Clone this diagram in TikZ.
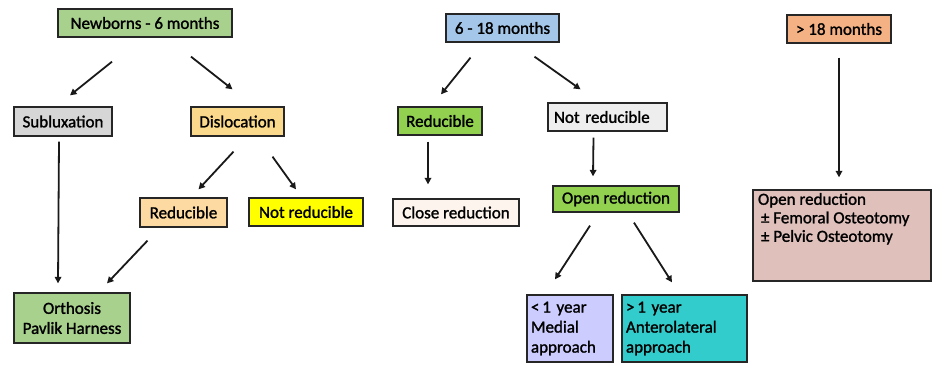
\documentclass[tikz,border=0pt]{standalone}
\usepackage{fontspec}
\setmainfont{Carlito}[BoldFont=Carlito, BoldFeatures={FakeBold=1.4}]
\usetikzlibrary{arrows.meta}
\definecolor{cgreen}{HTML}{A9D18E}
\definecolor{cgray}{HTML}{D6D6D6}
\definecolor{corange}{HTML}{FBD98C}
\definecolor{cpeach}{HTML}{FCDAA2}
\definecolor{cyellow}{HTML}{FFFF00}
\definecolor{cblue}{HTML}{A4C6E8}
\definecolor{clime}{HTML}{92D050}
\definecolor{clight}{HTML}{EEEEEE}
\definecolor{ccream}{HTML}{FDF4EE}
\definecolor{clav}{HTML}{CCCCFF}
\definecolor{cteal}{HTML}{33CCCC}
\definecolor{csalmon}{HTML}{F4B183}
\definecolor{cpink}{HTML}{DFC0BB}
\tikzset{
  box/.style={draw=black!85, line width=1.3pt, inner sep=0pt, font=\fontsize{17}{20}\selectfont\bfseries, align=center},
  arr/.style={-{Triangle[length=6.5pt,width=6.5pt]}, line width=1.8pt, black!90}
}
\begin{document}
\begin{tikzpicture}[x=1pt,y=-1pt]
\useasboundingbox (0,0) rectangle (932,367);
% column 1
\node[box, fill=cgreen, minimum width=174pt, minimum height=28pt] (nb) at (145,23) {Newborns - 6 months};
\node[box, fill=cgray, minimum width=98pt, minimum height=29pt] (sub) at (63,121.5) {Subluxation};
\node[box, fill=corange, minimum width=93pt, minimum height=29pt] (dis) at (237.5,121.5) {Dislocation};
\node[box, fill=cpeach, minimum width=87pt, minimum height=29pt] (red1) at (183.5,212.5) {Reducible};
\node[box, fill=cyellow, minimum width=114pt, minimum height=28pt] (nr1) at (306,212) {Not reducible};
\node[box, fill=cgreen, minimum width=116pt, minimum height=50pt] (ortho) at (72,318) {Orthosis\\Pavlik Harness};
% column 2
\node[box, fill=cblue, minimum width=113pt, minimum height=28pt] (mid) at (502.5,28) {6 - 18 months};
\node[box, fill=clime, minimum width=84pt, minimum height=28pt] (red2) at (440,121) {Reducible};
\node[box, fill=clight, minimum width=119pt, minimum height=28pt, text width=107pt, align=left] (nr2) at (607.5,117) {Not reducible};
\node[box, fill=ccream, minimum width=126pt, minimum height=27pt] (close) at (456,212.5) {Close reduction};
\node[box, fill=clime, minimum width=126pt, minimum height=26pt] (open) at (616,199) {Open reduction};
\node[box, fill=clav, minimum width=86pt, minimum height=67pt, text width=78pt, align=left] (lt) at (570,328.5) {<\,1 year\\Medial\\approach};
\node[box, fill=cteal, minimum width=125pt, minimum height=67pt, text width=117pt, align=left] (gt) at (684.5,328.5) {>\,1 year\\Anterolateral\\approach};
% column 3
\node[box, fill=csalmon, minimum width=104pt, minimum height=28pt] (old) at (839,29) {> 18 months};
\node[box, fill=cpink, minimum width=178pt, minimum height=91pt] (big) at (842,235.5)
  {\parbox[c][85pt][t]{168pt}{\fontsize{17}{18.5}\selectfont\bfseries Open reduction\\\hspace*{3pt}± Femoral Osteotomy\\\hspace*{3pt}± Pelvic Osteotomy}};
% arrows
\draw[arr] ([shift={(-33,24)}]nb.south) -- ([shift={(7,-11)}]sub.north);
\draw[arr] ([shift={(46,19)}]nb.south) -- ([shift={(-5,-17)}]dis.north);
\draw[arr] ([shift={(-4,15)}]dis.south) -- ([shift={(15,-8)}]red1.north);
\draw[arr] ([shift={(35,20)}]dis.south) -- ([shift={(-10,-8)}]nr1.north);
\draw[arr] ([shift={(-4,5)}]sub.south) -- ([shift={(-14,-9)}]ortho.north);
\draw[arr] ([shift={(-36,13)}]red1.south) -- ([shift={(35,-9)}]ortho.north);
\draw[arr] ([shift={(-32,15)}]mid.south) -- ([shift={(1,-12)}]red2.north);
\draw[arr] ([shift={(32,14)}]mid.south) -- ([shift={(-27,-13)}]nr2.north);
\draw[arr] ([shift={(-12,6)}]red2.south) -- ([shift={(-28,-14)}]close.north);
\draw[arr] ([shift={(-14,6)}]nr2.south) -- ([shift={(-23,-9)}]open.north);
\draw[arr] ([shift={(-26,13)}]open.south) -- ([shift={(-15,-15)}]lt.north);
\draw[arr] ([shift={(18,10)}]open.south) -- ([shift={(-12.5,-12)}]gt.north);
\draw[arr] ([shift={(0,14)}]old.south) -- ([shift={(-3,-12)}]big.north);
\end{tikzpicture}
\end{document}
